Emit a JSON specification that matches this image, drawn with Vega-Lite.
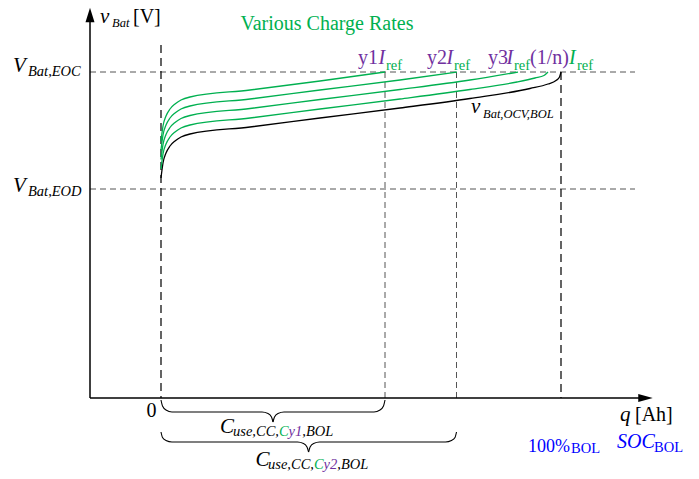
{
  "$schema": "https://vega.github.io/schema/vega-lite/v6.json",
  "width": 699,
  "height": 479,
  "autosize": {"type": "fit", "contains": "padding"},
  "padding": 0,
  "background": "white",
  "config": {"view": {"stroke": null}},
  "datasets": {
    "guides": [
      {"name": "EOC", "type": "level", "q": -17.75, "v": 3.26, "q2": 118.5, "v2": 3.26},
      {"name": "EOD", "type": "level", "q": -17.75, "v": 2.09, "q2": 118.5, "v2": 2.09},
      {"name": "y1 cutoff", "type": "cutoff", "q": 56, "v": 3.26, "q2": 56, "v2": 0},
      {"name": "y2 cutoff", "type": "cutoff", "q": 73.875, "v": 3.26, "q2": 73.875, "v2": 0},
      {"name": "start", "type": "bound", "q": 0, "v": 3.53, "q2": 0, "v2": 0},
      {"name": "full", "type": "bound", "q": 100, "v": 3.26, "q2": 100, "v2": 0},
      {"name": "v axis", "type": "axis", "q": -17.75, "v": 0, "q2": -17.75, "v2": 3.83},
      {"name": "q axis", "type": "axis", "q": -17.75, "v": 0, "q2": 121, "v2": 0}
    ],
    "arrows": [
      {"dir": "up", "q": -17.75, "v": 3.83},
      {"dir": "right", "q": 121.125, "v": 0}
    ],
    "curves": [
      {"series": "ocv", "role": "ocv", "q": 0, "v": 2.2},
      {"series": "ocv", "role": "ocv", "q": 0.5, "v": 2.35},
      {"series": "ocv", "role": "ocv", "q": 1.25, "v": 2.45},
      {"series": "ocv", "role": "ocv", "q": 2.25, "v": 2.52},
      {"series": "ocv", "role": "ocv", "q": 3.5, "v": 2.57},
      {"series": "ocv", "role": "ocv", "q": 5, "v": 2.61},
      {"series": "ocv", "role": "ocv", "q": 7.25, "v": 2.64},
      {"series": "ocv", "role": "ocv", "q": 22.25, "v": 2.71},
      {"series": "ocv", "role": "ocv", "q": 39.75, "v": 2.8},
      {"series": "ocv", "role": "ocv", "q": 59.75, "v": 2.9},
      {"series": "ocv", "role": "ocv", "q": 77.25, "v": 2.995},
      {"series": "ocv", "role": "ocv", "q": 92.25, "v": 3.095},
      {"series": "ocv", "role": "ocv", "q": 96.75, "v": 3.14},
      {"series": "ocv", "role": "ocv", "q": 98.75, "v": 3.175},
      {"series": "ocv", "role": "ocv", "q": 99.625, "v": 3.21},
      {"series": "ocv", "role": "ocv", "q": 100, "v": 3.26},
      {"series": "g4", "role": "rate", "q": 0, "v": 2.29},
      {"series": "g4", "role": "rate", "q": 0.5, "v": 2.44},
      {"series": "g4", "role": "rate", "q": 1.25, "v": 2.54},
      {"series": "g4", "role": "rate", "q": 2.25, "v": 2.61},
      {"series": "g4", "role": "rate", "q": 3.5, "v": 2.66},
      {"series": "g4", "role": "rate", "q": 5, "v": 2.7},
      {"series": "g4", "role": "rate", "q": 7.25, "v": 2.73},
      {"series": "g4", "role": "rate", "q": 22.25, "v": 2.8},
      {"series": "g4", "role": "rate", "q": 39.75, "v": 2.89},
      {"series": "g4", "role": "rate", "q": 59.75, "v": 2.99},
      {"series": "g4", "role": "rate", "q": 77.25, "v": 3.085},
      {"series": "g4", "role": "rate", "q": 89, "v": 3.16},
      {"series": "g4", "role": "rate", "q": 93.5, "v": 3.2},
      {"series": "g4", "role": "rate", "q": 95.75, "v": 3.225},
      {"series": "g4", "role": "rate", "q": 96.75, "v": 3.26},
      {"series": "g3", "role": "rate", "q": 0, "v": 2.385},
      {"series": "g3", "role": "rate", "q": 0.5, "v": 2.535},
      {"series": "g3", "role": "rate", "q": 1.25, "v": 2.635},
      {"series": "g3", "role": "rate", "q": 2.25, "v": 2.705},
      {"series": "g3", "role": "rate", "q": 3.5, "v": 2.755},
      {"series": "g3", "role": "rate", "q": 5, "v": 2.795},
      {"series": "g3", "role": "rate", "q": 7.25, "v": 2.825},
      {"series": "g3", "role": "rate", "q": 22.25, "v": 2.895},
      {"series": "g3", "role": "rate", "q": 39.75, "v": 2.985},
      {"series": "g3", "role": "rate", "q": 59.75, "v": 3.085},
      {"series": "g3", "role": "rate", "q": 77.25, "v": 3.18},
      {"series": "g3", "role": "rate", "q": 89.25, "v": 3.26},
      {"series": "g2", "role": "rate", "q": 0, "v": 2.48},
      {"series": "g2", "role": "rate", "q": 0.5, "v": 2.63},
      {"series": "g2", "role": "rate", "q": 1.25, "v": 2.73},
      {"series": "g2", "role": "rate", "q": 2.25, "v": 2.8},
      {"series": "g2", "role": "rate", "q": 3.5, "v": 2.85},
      {"series": "g2", "role": "rate", "q": 5, "v": 2.89},
      {"series": "g2", "role": "rate", "q": 7.25, "v": 2.92},
      {"series": "g2", "role": "rate", "q": 22.25, "v": 2.99},
      {"series": "g2", "role": "rate", "q": 39.75, "v": 3.08},
      {"series": "g2", "role": "rate", "q": 59.75, "v": 3.18},
      {"series": "g2", "role": "rate", "q": 74, "v": 3.26},
      {"series": "g1", "role": "rate", "q": 0, "v": 2.57},
      {"series": "g1", "role": "rate", "q": 0.5, "v": 2.72},
      {"series": "g1", "role": "rate", "q": 1.25, "v": 2.82},
      {"series": "g1", "role": "rate", "q": 2.25, "v": 2.89},
      {"series": "g1", "role": "rate", "q": 3.5, "v": 2.94},
      {"series": "g1", "role": "rate", "q": 5, "v": 2.98},
      {"series": "g1", "role": "rate", "q": 7.25, "v": 3.01},
      {"series": "g1", "role": "rate", "q": 22.25, "v": 3.08},
      {"series": "g1", "role": "rate", "q": 39.75, "v": 3.17},
      {"series": "g1", "role": "rate", "q": 56, "v": 3.26}
    ],
    "braces": [
      {"piece": "b1 left", "q": 0, "v": -0.02},
      {"piece": "b1 left", "q": 0.375, "v": -0.08},
      {"piece": "b1 left", "q": 1.25, "v": -0.12},
      {"piece": "b1 left", "q": 2.75, "v": -0.14},
      {"piece": "b1 left", "q": 25.25, "v": -0.14},
      {"piece": "b1 left", "q": 26.75, "v": -0.155},
      {"piece": "b1 left", "q": 27.625, "v": -0.19},
      {"piece": "b1 left", "q": 28, "v": -0.24},
      {"piece": "b1 right", "q": 28, "v": -0.24},
      {"piece": "b1 right", "q": 28.375, "v": -0.19},
      {"piece": "b1 right", "q": 29.25, "v": -0.155},
      {"piece": "b1 right", "q": 30.75, "v": -0.14},
      {"piece": "b1 right", "q": 53.25, "v": -0.14},
      {"piece": "b1 right", "q": 54.75, "v": -0.12},
      {"piece": "b1 right", "q": 55.625, "v": -0.08},
      {"piece": "b1 right", "q": 56, "v": -0.02},
      {"piece": "b2 left", "q": 0, "v": -0.34},
      {"piece": "b2 left", "q": 0.375, "v": -0.395},
      {"piece": "b2 left", "q": 1.25, "v": -0.425},
      {"piece": "b2 left", "q": 2.75, "v": -0.44},
      {"piece": "b2 left", "q": 34.125, "v": -0.44},
      {"piece": "b2 left", "q": 35.625, "v": -0.455},
      {"piece": "b2 left", "q": 36.5, "v": -0.49},
      {"piece": "b2 left", "q": 36.9, "v": -0.54},
      {"piece": "b2 right", "q": 36.9, "v": -0.54},
      {"piece": "b2 right", "q": 37.275, "v": -0.49},
      {"piece": "b2 right", "q": 38.15, "v": -0.455},
      {"piece": "b2 right", "q": 39.65, "v": -0.44},
      {"piece": "b2 right", "q": 71.125, "v": -0.44},
      {"piece": "b2 right", "q": 72.625, "v": -0.425},
      {"piece": "b2 right", "q": 73.5, "v": -0.395},
      {"piece": "b2 right", "q": 73.875, "v": -0.34}
    ],
    "labels": [
      {"text": "v", "part": "var", "role": "axis", "q": -15.25, "v": 3.75},
      {"text": "V", "part": "var", "role": "axis", "q": -37, "v": 3.26},
      {"text": "V", "part": "var", "role": "axis", "q": -37, "v": 2.06},
      {"text": "v", "part": "var", "role": "ocv", "q": 77.5, "v": 2.85},
      {"text": "q", "part": "var", "role": "axis", "q": 114.75, "v": -0.23},
      {"text": "C", "part": "var", "role": "axis", "q": 14.75, "v": -0.35},
      {"text": "C", "part": "var", "role": "axis", "q": 23.625, "v": -0.68},
      {"text": "[V]", "part": "txt", "role": "axis", "q": -7, "v": 3.75},
      {"text": "[Ah]", "part": "txt", "role": "axis", "q": 118.5, "v": -0.23},
      {"text": "0", "part": "txt", "role": "axis", "q": -3.625, "v": -0.19},
      {"text": "Various Charge Rates", "part": "txt", "role": "rate", "q": 19.875, "v": 3.68},
      {"text": "y1", "part": "txt", "role": "multiplier", "q": 49.25, "v": 3.34},
      {"text": "y2", "part": "txt", "role": "multiplier", "q": 66.5, "v": 3.34},
      {"text": "y3", "part": "txt", "role": "multiplier", "q": 81.75, "v": 3.34},
      {"text": "(1/n)", "part": "txt", "role": "multiplier", "q": 92.25, "v": 3.34},
      {"text": "100%", "part": "soctxt", "role": "soc", "q": 91.75, "v": -0.54},
      {"text": "I", "part": "ivar", "role": "multiplier", "q": 54.375, "v": 3.34},
      {"text": "I", "part": "ivar", "role": "multiplier", "q": 71.375, "v": 3.34},
      {"text": "I", "part": "ivar", "role": "multiplier", "q": 86.375, "v": 3.34},
      {"text": "I", "part": "ivar", "role": "rate", "q": 102, "v": 3.34},
      {"text": "SOC", "part": "ivar", "role": "soc", "q": 114, "v": -0.5},
      {"text": "ref", "part": "subtxt", "role": "rate", "q": 56.25, "v": 3.28},
      {"text": "ref", "part": "subtxt", "role": "rate", "q": 73.25, "v": 3.28},
      {"text": "ref", "part": "subtxt", "role": "rate", "q": 88.25, "v": 3.28},
      {"text": "ref", "part": "subtxt", "role": "rate", "q": 104, "v": 3.28},
      {"text": "BOL", "part": "subtxt", "role": "soc", "q": 102.5, "v": -0.55},
      {"text": "BOL", "part": "subtxt", "role": "soc", "q": 123.25, "v": -0.54},
      {"text": "Bat,EOC", "part": "sub", "role": "axis", "q": -33.25, "v": 3.22},
      {"text": "Bat,EOD", "part": "sub", "role": "axis", "q": -33.25, "v": 2.02},
      {"text": "use,CC,", "part": "sub", "role": "axis", "q": 18, "v": -0.38},
      {"text": "C", "part": "sub", "role": "rate", "q": 29.475, "v": -0.38},
      {"text": "y1", "part": "sub", "role": "multiplier", "q": 31.9, "v": -0.38},
      {"text": ",BOL", "part": "sub", "role": "axis", "q": 35.325, "v": -0.38},
      {"text": "use,CC,", "part": "sub", "role": "axis", "q": 26.75, "v": -0.71},
      {"text": "C", "part": "sub", "role": "rate", "q": 38.225, "v": -0.71},
      {"text": "y2", "part": "sub", "role": "multiplier", "q": 40.65, "v": -0.71},
      {"text": ",BOL", "part": "sub", "role": "axis", "q": 44.075, "v": -0.71},
      {"text": "Bat", "part": "subsmall", "role": "axis", "q": -12.25, "v": 3.71},
      {"text": "Bat,OCV,BOL", "part": "subsmall", "role": "ocv", "q": 80.5, "v": 2.8}
    ]
  },
  "encoding": {
    "x": {"field": "q", "type": "quantitative", "scale": {"domain": [-40.25, 134.5], "nice": false, "zero": false}, "axis": null},
    "y": {"field": "v", "type": "quantitative", "scale": {"domain": [-0.81, 3.98], "nice": false, "zero": false}, "axis": null}
  },
  "layer": [
    {
      "data": {"name": "guides"},
      "transform": [{"filter": "datum.type == 'level' || datum.type == 'cutoff'"}],
      "mark": {"type": "rule", "color": "#555555", "strokeWidth": 1, "strokeDash": [6, 4]},
      "encoding": {"x2": {"field": "q2"}, "y2": {"field": "v2"}}
    },
    {
      "data": {"name": "guides"},
      "transform": [{"filter": "datum.type == 'bound'"}],
      "mark": {"type": "rule", "color": "#111111", "strokeWidth": 1.3, "strokeDash": [8, 5]},
      "encoding": {"x2": {"field": "q2"}, "y2": {"field": "v2"}}
    },
    {
      "data": {"name": "guides"},
      "transform": [{"filter": "datum.type == 'axis'"}],
      "mark": {"type": "rule", "color": "#000000", "strokeWidth": 1.5},
      "encoding": {"x2": {"field": "q2"}, "y2": {"field": "v2"}}
    },
    {
      "data": {"name": "arrows"},
      "mark": {"type": "point", "filled": true, "color": "#000000", "opacity": 1, "size": 210},
      "encoding": {
        "shape": {"field": "dir", "type": "nominal", "scale": {"domain": ["up", "right"], "range": ["M0,-1L0.62,1L-0.62,1Z", "M1,0L-1,0.55L-1,-0.55Z"]}, "legend": null}
      }
    },
    {
      "data": {"name": "curves"},
      "mark": {"type": "line", "strokeWidth": 1.3, "interpolate": "monotone"},
      "encoding": {
        "detail": {"field": "series", "type": "nominal"},
        "color": {"field": "role", "type": "nominal", "scale": {"domain": ["axis", "ocv", "rate", "multiplier", "soc"], "range": ["#000000", "#000000", "#00B050", "#7030A0", "#0000FF"]}, "legend": null}
      }
    },
    {
      "data": {"name": "braces"},
      "mark": {"type": "line", "color": "#000000", "strokeWidth": 1.1, "interpolate": "monotone"},
      "encoding": {"detail": {"field": "piece", "type": "nominal"}}
    },
    {
      "data": {"name": "labels"},
      "transform": [{"filter": "datum.part == 'var'"}],
      "mark": {"type": "text", "font": "Liberation Serif", "fontStyle": "italic", "fontSize": 21, "align": "left", "baseline": "alphabetic"},
      "encoding": {
        "text": {"field": "text"},
        "color": {"field": "role", "type": "nominal", "scale": {"domain": ["axis", "ocv", "rate", "multiplier", "soc"], "range": ["#000000", "#000000", "#00B050", "#7030A0", "#0000FF"]}, "legend": null}
      }
    },
    {
      "data": {"name": "labels"},
      "transform": [{"filter": "datum.part == 'txt'"}],
      "mark": {"type": "text", "font": "Liberation Serif", "fontSize": 20, "align": "left", "baseline": "alphabetic"},
      "encoding": {
        "text": {"field": "text"},
        "color": {"field": "role", "type": "nominal", "scale": {"domain": ["axis", "ocv", "rate", "multiplier", "soc"], "range": ["#000000", "#000000", "#00B050", "#7030A0", "#0000FF"]}, "legend": null}
      }
    },
    {
      "data": {"name": "labels"},
      "transform": [{"filter": "datum.part == 'soctxt'"}],
      "mark": {"type": "text", "font": "Liberation Serif", "fontSize": 18, "align": "left", "baseline": "alphabetic"},
      "encoding": {
        "text": {"field": "text"},
        "color": {"field": "role", "type": "nominal", "scale": {"domain": ["axis", "ocv", "rate", "multiplier", "soc"], "range": ["#000000", "#000000", "#00B050", "#7030A0", "#0000FF"]}, "legend": null}
      }
    },
    {
      "data": {"name": "labels"},
      "transform": [{"filter": "datum.part == 'ivar'"}],
      "mark": {"type": "text", "font": "Liberation Serif", "fontStyle": "italic", "fontSize": 20, "align": "left", "baseline": "alphabetic"},
      "encoding": {
        "text": {"field": "text"},
        "color": {"field": "role", "type": "nominal", "scale": {"domain": ["axis", "ocv", "rate", "multiplier", "soc"], "range": ["#000000", "#000000", "#00B050", "#7030A0", "#0000FF"]}, "legend": null}
      }
    },
    {
      "data": {"name": "labels"},
      "transform": [{"filter": "datum.part == 'subtxt'"}],
      "mark": {"type": "text", "font": "Liberation Serif", "fontSize": 14.5, "align": "left", "baseline": "alphabetic"},
      "encoding": {
        "text": {"field": "text"},
        "color": {"field": "role", "type": "nominal", "scale": {"domain": ["axis", "ocv", "rate", "multiplier", "soc"], "range": ["#000000", "#000000", "#00B050", "#7030A0", "#0000FF"]}, "legend": null}
      }
    },
    {
      "data": {"name": "labels"},
      "transform": [{"filter": "datum.part == 'sub'"}],
      "mark": {"type": "text", "font": "Liberation Serif", "fontStyle": "italic", "fontSize": 14.5, "align": "left", "baseline": "alphabetic"},
      "encoding": {
        "text": {"field": "text"},
        "color": {"field": "role", "type": "nominal", "scale": {"domain": ["axis", "ocv", "rate", "multiplier", "soc"], "range": ["#000000", "#000000", "#00B050", "#7030A0", "#0000FF"]}, "legend": null}
      }
    },
    {
      "data": {"name": "labels"},
      "transform": [{"filter": "datum.part == 'subsmall'"}],
      "mark": {"type": "text", "font": "Liberation Serif", "fontStyle": "italic", "fontSize": 12.5, "align": "left", "baseline": "alphabetic"},
      "encoding": {
        "text": {"field": "text"},
        "color": {"field": "role", "type": "nominal", "scale": {"domain": ["axis", "ocv", "rate", "multiplier", "soc"], "range": ["#000000", "#000000", "#00B050", "#7030A0", "#0000FF"]}, "legend": null}
      }
    }
  ]
}
